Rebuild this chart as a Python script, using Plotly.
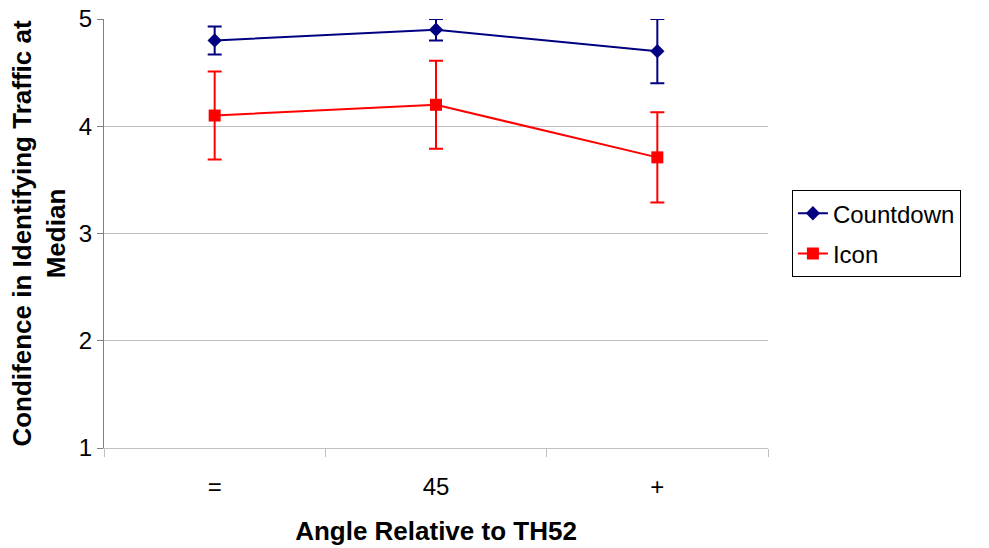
import plotly.graph_objects as go

categories = ["=", "45", "+"]
countdown = [4.8, 4.9, 4.7]
countdown_err = [0.13, 0.1, 0.3]
icon = [4.1, 4.2, 3.71]
icon_err = [0.41, 0.41, 0.42]

FONT = "Liberation Sans, Arial, sans-serif"

fig = go.Figure()
fig.add_trace(go.Scatter(
    x=categories, y=countdown, name="Countdown", mode="lines+markers",
    legendgroup="a",
    line=dict(color="#000080", width=2),
    marker=dict(symbol="diamond", size=11, color="#000080"),
    error_y=dict(type="data", array=countdown_err, color="#000080", thickness=2, width=7),
))
fig.add_trace(go.Scatter(
    x=categories, y=icon, name="Icon", mode="lines+markers",
    legendgroup="b",
    line=dict(color="#ff0000", width=2),
    marker=dict(symbol="square", size=12, color="#ff0000"),
    error_y=dict(type="data", array=icon_err, color="#ff0000", thickness=2, width=7),
))

fig.update_layout(
    width=989, height=548,
    margin=dict(l=104, r=221, t=19, b=100),
    paper_bgcolor="white", plot_bgcolor="white",
    font=dict(family=FONT, size=24, color="black"),
    legend=dict(
        x=1.036, y=0.601, xanchor="left", yanchor="top",
        bordercolor="#000000", borderwidth=1, bgcolor="white",
        font=dict(size=24), tracegroupgap=6,
    ),
    xaxis=dict(
        type="category", range=[-0.5, 2.5], tickson="boundaries",
        showgrid=False, showline=True, linecolor="#c0c0c0", linewidth=1,
        ticks="outside", ticklen=8, tickcolor="#c0c0c0", ticklabelstandoff=17,
        tickfont=dict(size=24), zeroline=False, automargin=False,
        title=dict(text="<b>Angle Relative to TH52</b>", font=dict(size=26), standoff=23),
    ),
    yaxis=dict(
        range=[1, 5], dtick=1, tick0=1,
        showgrid=True, gridcolor="#c0c0c0", gridwidth=1,
        showline=True, linecolor="#808080", linewidth=1,
        ticks="outside", ticklen=6, tickcolor="#808080",
        tickfont=dict(size=24), zeroline=False, automargin=False,
        title=dict(text="<b>Condifence in Identifying Traffic at<br>Median</b>",
                   font=dict(size=26), standoff=5),
    ),
)

fig.write_html("out.html", config={"displayModeBar": False},
               post_script="document.body.style.margin='0px';")
